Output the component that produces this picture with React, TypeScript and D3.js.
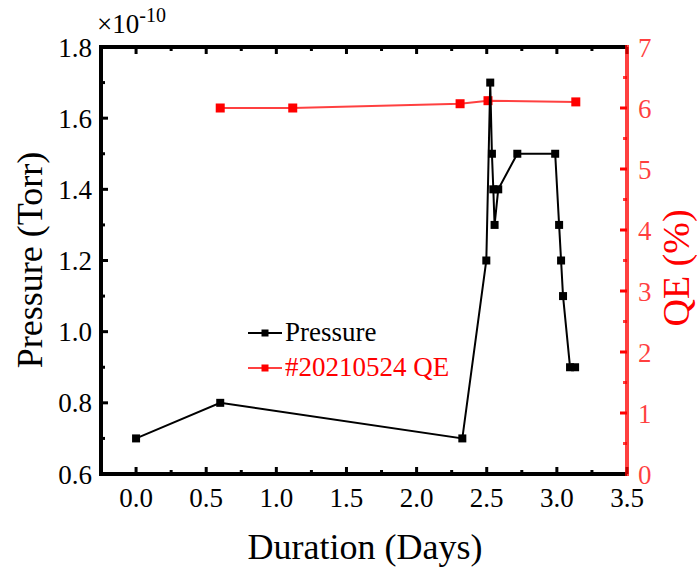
import React from "react";
import * as d3 from "d3";

const pressureDays = [0.0, 0.6, 2.326, 2.497, 2.525, 2.537, 2.547, 2.556, 2.582, 2.718, 2.988, 3.016, 3.03, 3.044, 3.094, 3.13];
const pressureVals = [0.7, 0.8, 0.7, 1.2, 1.7, 1.5, 1.4, 1.3, 1.4, 1.5, 1.5, 1.3, 1.2, 1.1, 0.9, 0.9];
const qeDays = [0.6, 1.117, 2.31, 2.509, 3.135];
const qeVals = [6.0, 6.0, 6.07, 6.12, 6.1];
const xTicks = [0, 0.5, 1.0, 1.5, 2.0, 2.5, 3.0, 3.5];
const xMinor = [-0.25, 0.25, 0.75, 1.25, 1.75, 2.25, 2.75, 3.25];
const yTicks = [0.6, 0.8, 1.0, 1.2, 1.4, 1.6, 1.8];
const yMinor = [0.7, 0.9, 1.1, 1.3, 1.5, 1.7];
const y2Ticks = [0, 1, 2, 3, 4, 5, 6, 7];
const y2Minor = [0.5, 1.5, 2.5, 3.5, 4.5, 5.5, 6.5];

const L = 101, R = 627, T = 47, B = 474;
const FONT = "Liberation Serif";
const RED = "#ff0000";

export default function App() {
  const x = d3.scaleLinear().domain([-0.25, 3.5]).range([L, R]);
  const y = d3.scaleLinear().domain([0.6, 1.8]).range([B, T]);
  const y2 = d3.scaleLinear().domain([0, 7]).range([B, T]);
  const pLine = d3.line<number>().x((_, i) => x(pressureDays[i])).y((d) => y(d));
  const qLine = d3.line<number>().x((_, i) => x(qeDays[i])).y((d) => y2(d));
  const ms = 8;
  return (
    <svg width={697} height={567} style={{ position: "absolute", left: 0, top: 0 }}>
      <rect width={697} height={567} fill="#fff" />
      {/* data */}
      <path d={qLine(qeVals) || ""} fill="none" stroke={RED} strokeOpacity={0.75} strokeWidth={2} />
      {qeVals.map((v, i) => (
        <rect key={"q" + i} x={x(qeDays[i]) - 4.5} y={y2(v) - 4.5} width={9} height={9} fill={RED} />
      ))}
      <path d={pLine(pressureVals) || ""} fill="none" stroke="#000" strokeWidth={2} />
      {pressureVals.map((v, i) => (
        <rect key={"p" + i} x={x(pressureDays[i]) - ms / 2} y={y(v) - ms / 2} width={ms} height={ms} fill="#000" />
      ))}
      {/* ticks bottom & top */}
      {xTicks.map((t) => (
        <g key={"xt" + t}>
          <line x1={x(t)} x2={x(t)} y1={B} y2={B - 7} stroke="#000" strokeWidth={3} />
          <line x1={x(t)} x2={x(t)} y1={T} y2={T + 7} stroke="#000" strokeWidth={3} />
          <text x={x(t)} y={B + 33} fontFamily={FONT} fontSize={27} textAnchor="middle" fill="#000">{t.toFixed(1)}</text>
        </g>
      ))}
      {xMinor.map((t) => (
        <g key={"xm" + t}>
          <line x1={x(t)} x2={x(t)} y1={B} y2={B - 4} stroke="#000" strokeWidth={3} />
          <line x1={x(t)} x2={x(t)} y1={T} y2={T + 4} stroke="#000" strokeWidth={3} />
        </g>
      ))}
      {yTicks.map((t) => (
        <g key={"yt" + t}>
          <line x1={L} x2={L + 7} y1={y(t)} y2={y(t)} stroke="#000" strokeWidth={3} />
          <text x={L - 9} y={y(t) + 9.5} fontFamily={FONT} fontSize={27} textAnchor="end" fill="#000">{t.toFixed(1)}</text>
        </g>
      ))}
      {yMinor.map((t) => (
        <line key={"ym" + t} x1={L} x2={L + 4} y1={y(t)} y2={y(t)} stroke="#000" strokeWidth={3} />
      ))}
      {y2Ticks.map((t) => (
        <g key={"y2t" + t}>
          <line x1={R} x2={R - 7} y1={y2(t)} y2={y2(t)} stroke={RED} strokeWidth={3} />
          <text x={R + 11} y={y2(t) + 9.5} fontFamily={FONT} fontSize={27} textAnchor="start" fill={RED} fillOpacity={0.75}>{t}</text>
        </g>
      ))}
      {y2Minor.map((t) => (
        <line key={"y2m" + t} x1={R} x2={R - 4} y1={y2(t)} y2={y2(t)} stroke={RED} strokeOpacity={0.75} strokeWidth={3} />
      ))}
      {/* frame */}
      <line x1={L - 2} x2={R} y1={T} y2={T} stroke="#000" strokeWidth={4} />
      <line x1={L - 2} x2={R} y1={B} y2={B} stroke="#000" strokeWidth={4} />
      <line x1={L} x2={L} y1={T - 2} y2={B + 2} stroke="#000" strokeWidth={4} />
      <line x1={R} x2={R} y1={T - 2} y2={B + 2} stroke={RED} strokeOpacity={0.75} strokeWidth={4} />
      {/* multiplier */}
      <text x={97} y={33} fontFamily={FONT} fontSize={27} fill="#000">
        ×10<tspan dy={-11} fontSize={20}>-10</tspan>
      </text>
      {/* axis titles */}
      <text x={365} y={559} fontFamily={FONT} fontSize={36} textAnchor="middle" fill="#000">Duration (Days)</text>
      <text transform={`translate(42, 260) rotate(-90)`} fontFamily={FONT} fontSize={36} textAnchor="middle" fill="#000">Pressure (Torr)</text>
      <text transform={`translate(689, 268) rotate(-90)`} fontFamily={FONT} fontSize={38} textAnchor="middle" fill={RED}>QE (%)</text>
      {/* legend */}
      <line x1={248} x2={282} y1={333} y2={333} stroke="#000" strokeWidth={2} />
      <rect x={261.5} y={329.5} width={7} height={7} fill="#000" />
      <text x={285} y={341} fontFamily={FONT} fontSize={27} fill="#000">Pressure</text>
      <line x1={248} x2={282} y1={368} y2={368} stroke={RED} strokeWidth={2} strokeOpacity={0.75} />
      <rect x={261.5} y={364.5} width={7} height={7} fill={RED} />
      <text x={285} y={376} fontFamily={FONT} fontSize={27} fill={RED}>#20210524 QE</text>
    </svg>
  );
}
